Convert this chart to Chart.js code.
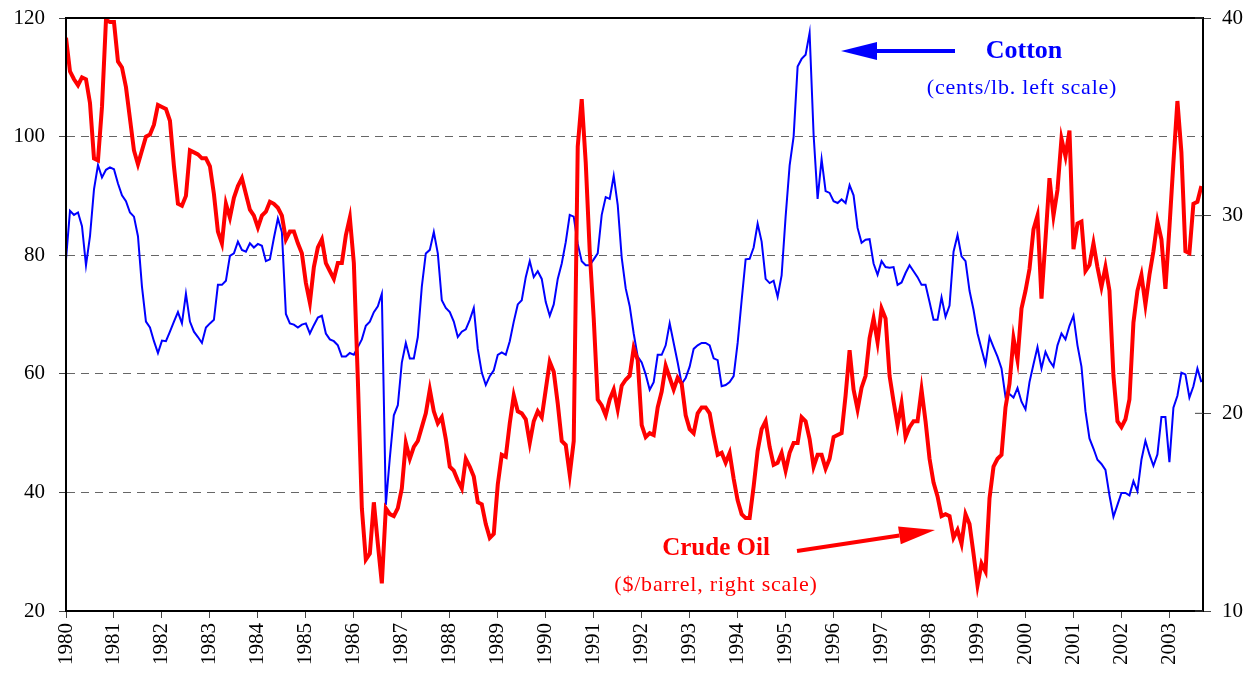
<!DOCTYPE html>
<html>
<head>
<meta charset="utf-8">
<script src="https://cdn.jsdelivr.net/npm/chart.js@4.4.1/dist/chart.umd.min.js"></script>
<style>
  body { margin: 0; background: #fff; }
  canvas { display: block; }
</style>
</head>
<body>
<canvas id="cntx_prices" width="1258" height="675"></canvas>
<script>
// monthly series, Jan 1980 .. Sep 2003
const tickYears = [1980, 1981, 1982, 1983, 1984, 1985, 1986, 1987, 1988, 1989, 1990, 1991,
	1992, 1993, 1994, 1995, 1996, 1997, 1998, 1999, 2000, 2001, 2002, 2003];

// cotton, cents/lb (left scale)
const cotton = [
	79.3, 87.5, 86.8, 87.2, 84.9, 78.3, 83.2, 91.1, 95.2, 93.1, 94.4, 94.8,
	94.5, 92.1, 90.1, 89.1, 87.2, 86.5, 83.2, 74.7, 68.8, 67.8, 65.5, 63.5,
	65.6, 65.5, 67.1, 68.8, 70.4, 68.5, 73.5, 68.8, 67.1, 66.2, 65.2, 67.8,
	68.5, 69.1, 75.0, 75.0, 75.7, 79.9, 80.3, 82.3, 80.9, 80.6, 82.0, 81.3,
	81.9, 81.6, 79.0, 79.3, 82.9, 86.2, 83.9, 70.1, 68.5, 68.3, 67.8, 68.3,
	68.5, 66.8, 68.2, 69.5, 69.8, 66.8, 65.8, 65.5, 64.8, 62.9, 62.9, 63.5,
	63.2, 64.5, 65.8, 68.1, 68.8, 70.4, 71.4, 73.5, 37.9, 45.8, 53.0, 54.7,
	61.9, 65.2, 62.6, 62.6, 66.2, 74.7, 80.3, 80.9, 83.9, 80.3, 72.4, 71.1,
	70.4, 68.8, 66.2, 67.1, 67.5, 69.1, 71.1, 64.2, 60.2, 58.1, 59.6, 60.6,
	63.2, 63.6, 63.2, 65.5, 68.8, 71.7, 72.4, 76.3, 79.0, 76.3, 77.3, 76.0,
	72.1, 69.8, 71.7, 76.0, 78.6, 82.2, 86.8, 86.5, 81.9, 79.0, 78.3, 78.3,
	79.3, 80.3, 86.8, 89.8, 89.5, 93.4, 88.5, 79.6, 74.4, 71.4, 66.8, 62.9,
	61.9, 59.9, 57.3, 58.6, 63.2, 63.2, 64.8, 68.5, 65.2, 61.9, 58.3, 59.3,
	61.2, 64.2, 64.8, 65.2, 65.2, 64.8, 62.6, 62.3, 57.9, 58.1, 58.6, 59.6,
	65.2, 72.4, 79.3, 79.4, 81.3, 85.3, 82.3, 76.0, 75.3, 75.7, 73.0, 76.6,
	86.5, 95.1, 100.0, 111.8, 113.1, 113.8, 117.5, 100.3, 89.5, 96.2, 90.8, 90.5,
	89.1, 88.8, 89.4, 88.8, 91.8, 90.1, 84.6, 82.1, 82.6, 82.7, 78.6, 76.7,
	79.0, 78.0, 77.9, 78.0, 75.0, 75.4, 77.0, 78.3, 77.3, 76.3, 75.0, 75.0,
	72.1, 69.1, 69.1, 72.9, 69.6, 71.5, 80.6, 83.4, 79.8, 79.0, 74.0, 70.8,
	66.8, 64.2, 61.6, 66.2, 64.5, 62.9, 60.9, 56.1, 56.6, 56.0, 57.6, 55.3,
	54.0, 58.6, 61.6, 64.5, 60.9, 63.7, 62.2, 61.2, 64.8, 66.8, 65.8, 68.1,
	69.8, 64.8, 61.2, 53.7, 49.1, 47.4, 45.5, 44.8, 43.8, 39.5, 35.9, 37.9,
	39.9, 39.9, 39.5, 41.9, 40.2, 45.5, 48.7, 46.4, 44.5, 46.4, 52.7, 52.7,
	45.1, 54.3, 56.3, 60.2, 59.9, 56.0, 57.9, 60.9, 58.6
];

// crude oil, $/barrel (right scale)
const crudeOil = [
	39.0, 37.3, 36.9, 36.6, 37.0, 36.9, 35.7, 32.9, 32.8, 35.5, 39.9, 39.8,
	39.8, 37.8, 37.5, 36.5, 34.9, 33.3, 32.6, 33.3, 34.0, 34.1, 34.6, 35.6,
	35.5, 35.4, 34.8, 32.5, 30.6, 30.5, 31.0, 33.3, 33.2, 33.1, 32.9, 32.9,
	32.5, 31.1, 29.2, 28.6, 30.6, 29.9, 30.9, 31.5, 31.9, 31.1, 30.3, 30.0,
	29.4, 30.0, 30.2, 30.7, 30.6, 30.4, 30.0, 28.8, 29.2, 29.2, 28.6, 28.1,
	26.6, 25.6, 27.4, 28.4, 28.8, 27.6, 27.2, 26.8, 27.6, 27.6, 29.0, 29.9,
	27.6, 21.7, 15.2, 12.6, 12.9, 15.5, 13.4, 11.4, 15.2, 14.9, 14.8, 15.2,
	16.2, 18.5, 17.7, 18.3, 18.6, 19.3, 20.0, 21.2, 20.1, 19.5, 19.8, 18.7,
	17.3, 17.1, 16.6, 16.2, 17.7, 17.3, 16.8, 15.5, 15.4, 14.4, 13.7, 13.9,
	16.4, 17.9, 17.8, 19.5, 20.9, 20.1, 20.0, 19.7, 18.5, 19.6, 20.1, 19.8,
	21.2, 22.6, 22.1, 20.5, 18.6, 18.4, 16.9, 18.6, 33.5, 35.9, 32.7, 28.2,
	24.8, 20.7, 20.4, 19.9, 20.7, 21.2, 20.2, 21.4, 21.7, 21.9, 23.3, 22.7,
	19.4, 18.8, 19.0, 18.9, 20.3, 21.1, 22.4, 21.8, 21.2, 21.8, 21.5, 19.9,
	19.2, 19.0, 20.0, 20.3, 20.3, 20.0, 18.9, 17.9, 18.0, 17.5, 18.0, 16.7,
	15.6, 14.9, 14.7, 14.7, 16.3, 18.1, 19.2, 19.6, 18.3, 17.4, 17.5, 18.0,
	17.1, 18.0, 18.5, 18.5, 19.8, 19.6, 18.7, 17.3, 17.9, 17.9, 17.2, 17.7,
	18.8, 18.9, 19.0, 20.9, 23.2, 21.2, 20.2, 21.3, 21.9, 23.8, 24.8, 23.6,
	25.3, 24.8, 21.9, 20.6, 19.4, 20.5, 18.8, 19.3, 19.6, 19.6, 21.2, 19.6,
	17.7, 16.5, 15.8, 14.8, 14.9, 14.8, 13.7, 14.1, 13.4, 14.9, 14.4, 12.9,
	11.3, 12.4, 12.0, 15.7, 17.3, 17.7, 17.9, 20.3, 21.5, 23.8, 22.7, 25.3,
	26.2, 27.3, 29.3, 30.0, 25.8, 28.8, 31.9, 30.0, 31.3, 33.9, 33.0, 34.3,
	28.3, 29.6, 29.7, 27.2, 27.5, 28.6, 27.4, 26.4, 27.4, 26.2, 21.9, 19.6,
	19.3, 19.7, 20.7, 24.6, 26.2, 27.0, 25.5, 27.0, 28.2, 29.7, 28.8, 26.3,
	29.4, 32.7, 35.8, 33.2, 28.2, 28.1, 30.6, 30.7, 31.5
];

const serif = "'Liberation Serif', 'Times New Roman', serif";

toPoints = (values) => values.map((v, i) => ({ x: i, y: v }));

// fixed box sizes so the plot area sits where the reference has it
fixBox = (w, h) => (s) => {
	if (w) s.width = w;
	if (h) s.height = h;
	s.paddingTop = 0;
	s.paddingBottom = 0;
	s.paddingLeft = 0;
	s.paddingRight = 0;
};

drawArrow = (ctx, x1, y1, x2, y2, headLen, headHalf, width, color) => {
	const ang = Math.atan2(y2 - y1, x2 - x1);
	const bx = x2 - headLen * Math.cos(ang);
	const by = y2 - headLen * Math.sin(ang);
	ctx.strokeStyle = color;
	ctx.fillStyle = color;
	ctx.lineWidth = width;
	ctx.beginPath();
	ctx.moveTo(x1, y1);
	ctx.lineTo(bx, by);
	ctx.stroke();
	ctx.beginPath();
	ctx.moveTo(x2, y2);
	ctx.lineTo(bx + headHalf * Math.sin(ang), by - headHalf * Math.cos(ang));
	ctx.lineTo(bx - headHalf * Math.sin(ang), by + headHalf * Math.cos(ang));
	ctx.closePath();
	ctx.fill();
};

const framePlugin = {
	id: "frame",
	afterDraw(chart) {
		const { ctx, chartArea: a } = chart;
		const y2 = chart.scales.y2;
		ctx.save();
		ctx.strokeStyle = "#000";
		ctx.lineWidth = 2;
		ctx.strokeRect(a.left, a.top, a.right - a.left, a.bottom - a.top);

		// inner tick marks on the right scale
		ctx.strokeStyle = "#444";
		ctx.lineWidth = 1;
		y2.ticks.forEach((t) => {
			const py = y2.getPixelForValue(t.value);
			ctx.beginPath();
			ctx.moveTo(a.right - 8, py);
			ctx.lineTo(a.right, py);
			ctx.stroke();
		});

		// annotations
		ctx.textAlign = "center";
		ctx.textBaseline = "middle";
		ctx.fillStyle = "#0000ff";
		ctx.font = "bold 26px " + serif;
		ctx.fillText("Cotton", 1024, 51);
		ctx.font = "22px " + serif;
		ctx.letterSpacing = "0.8px";
		ctx.fillText("(cents/lb. left scale)", 1022, 88);
		ctx.letterSpacing = "0px";
		drawArrow(ctx, 955, 51, 841, 51, 36, 9, 4, "#0000ff");

		ctx.fillStyle = "#ff0000";
		ctx.font = "bold 25px " + serif;
		ctx.fillText("Crude Oil", 716, 549);
		ctx.font = "22px " + serif;
		ctx.letterSpacing = "0.8px";
		ctx.fillText("($/barrel, right scale)", 716, 585);
		ctx.letterSpacing = "0px";
		drawArrow(ctx, 797, 551, 935, 530, 36, 9, 4, "#ff0000");
		ctx.restore();
	},
};

drawChart = (canvas) => {
	const myChart = new Chart(canvas, {
		type: "line",
		data: {
			datasets: [
				{
					label: "Crude Oil",
					data: toPoints(crudeOil),
					yAxisID: "y2",
					borderColor: "#ff0000",
					borderWidth: 4,
					pointRadius: 0,
					tension: 0,
				},
				{
					label: "Cotton",
					data: toPoints(cotton),
					yAxisID: "y",
					borderColor: "#0000ff",
					borderWidth: 2,
					pointRadius: 0,
					tension: 0,
				},
			],
		},
		options: {
			responsive: false,
			devicePixelRatio: 1,
			animation: false,
			layout: { padding: { top: 18, left: 0, right: 0, bottom: 0 } },
			plugins: { legend: { display: false }, tooltip: { enabled: false } },
			scales: {
				x: {
					type: "linear",
					min: 0,
					max: 284.4,
					afterFit: fixBox(0, 64),
					border: { display: true, color: "#000", width: 2 },
					grid: { drawOnChartArea: false, drawTicks: true, tickLength: 7, tickColor: "#444" },
					ticks: {
						stepSize: 12,
						includeBounds: false,
						autoSkip: false,
						maxRotation: 90,
						minRotation: 90,
						padding: 5,
						color: "#000",
						font: { family: serif, size: 21 },
						callback: (v) => (v % 12 === 0 ? String(tickYears[v / 12]) : ""),
					},
				},
				y: {
					position: "left",
					min: 20,
					max: 120,
					afterFit: fixBox(66, 0),
					border: { display: true, color: "#000", width: 2, dash: [8, 6] },
					grid: {
						color: (c) => (c.tick && c.tick.value > 20 && c.tick.value < 120 ? "#666" : "rgba(0,0,0,0)"),
						lineWidth: 1,
						tickLength: 7,
						tickColor: "#444",
					},
					ticks: { stepSize: 20, padding: 14, color: "#000", font: { family: serif, size: 21 } },
				},
				y2: {
					position: "right",
					min: 10,
					max: 40,
					afterFit: fixBox(55, 0),
					border: { display: true, color: "#000", width: 2 },
					grid: { drawOnChartArea: false, tickLength: 8, tickColor: "#444" },
					ticks: { stepSize: 10, padding: 11, color: "#000", font: { family: serif, size: 21 } },
				},
			},
		},
		plugins: [framePlugin],
	});
};

drawChart(document.querySelector("#cntx_prices"));
</script>
</body>
</html>
